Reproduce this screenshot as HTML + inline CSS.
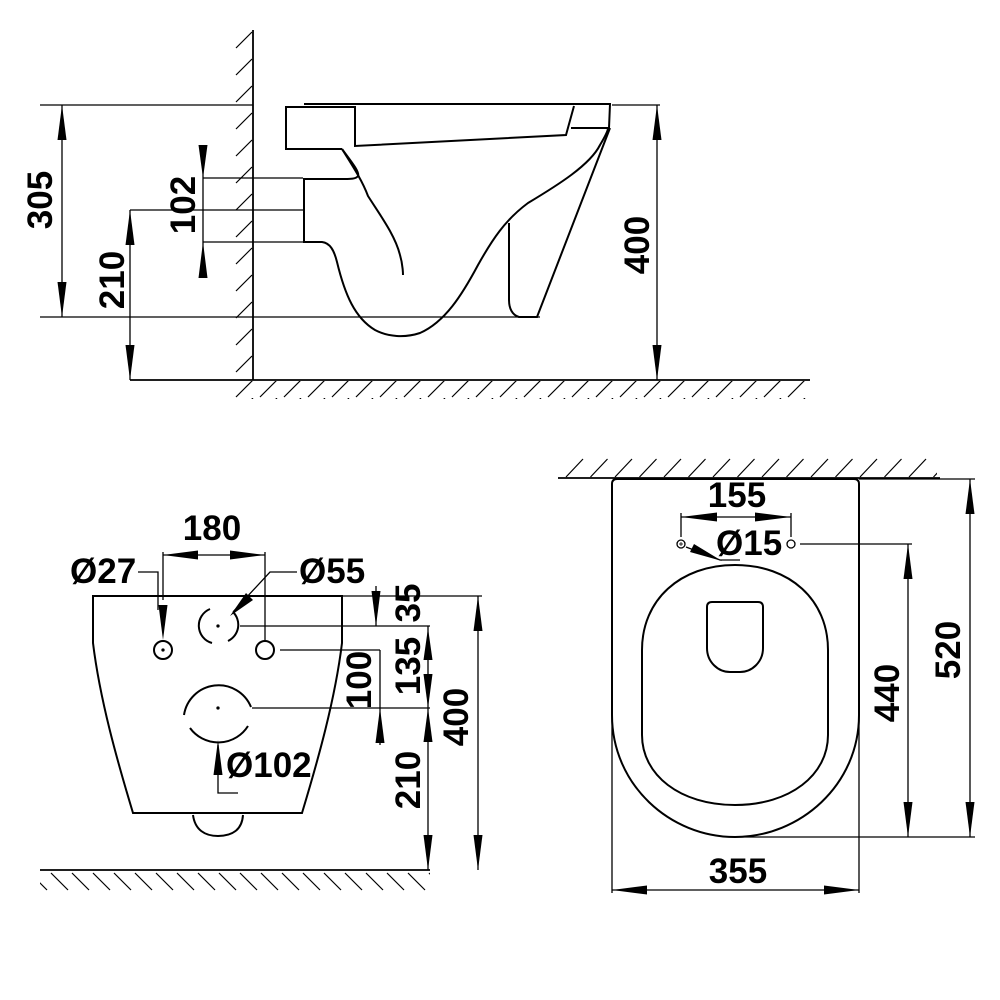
<!DOCTYPE html>
<html><head><meta charset="utf-8"><style>
html,body{margin:0;padding:0;background:#fff}
svg{display:block}
text{font-family:"Liberation Sans",Arial,sans-serif;font-weight:bold;font-size:35px;fill:#000}
</style></head><body>
<svg width="1000" height="1000" viewBox="0 0 1000 1000" xmlns="http://www.w3.org/2000/svg">
<defs>
<pattern id="hA" patternUnits="userSpaceOnUse" x="235" y="30" width="18" height="27"><line x1="1" y1="18" x2="17" y2="2" stroke="#000" stroke-width="1.2"/></pattern>
<pattern id="hB" patternUnits="userSpaceOnUse" x="235" y="380" width="24" height="18"><line x1="1" y1="17" x2="18" y2="0" stroke="#000" stroke-width="1.2"/></pattern>
<pattern id="hC" patternUnits="userSpaceOnUse" x="50" y="872" width="21" height="20"><line x1="1" y1="1" x2="18" y2="18" stroke="#000" stroke-width="1.2"/></pattern>
<pattern id="hD" patternUnits="userSpaceOnUse" x="565" y="458" width="24.5" height="20"><line x1="1" y1="19" x2="18" y2="1" stroke="#000" stroke-width="1.2"/></pattern>
</defs>
<g fill="none" stroke="#000" stroke-width="1.3">
<!-- SIDE VIEW -->
<line x1="253" y1="30" x2="253" y2="380" stroke-width="1.8"/>
<line x1="130" y1="380" x2="810" y2="380" stroke-width="1.8"/>
<rect x="235" y="30" width="18" height="350" fill="url(#hA)" stroke="none"/>
<rect x="235" y="381" width="575" height="18" fill="url(#hB)" stroke="none"/>
<line x1="40" y1="105" x2="253" y2="105"/>
<line x1="612" y1="105" x2="660" y2="105"/>
<line x1="40" y1="317" x2="540" y2="317"/>
<line x1="62" y1="105" x2="62" y2="317"/>
<line x1="657" y1="105" x2="657" y2="380"/>
<line x1="203" y1="145" x2="203" y2="278"/>
<line x1="203" y1="178" x2="303" y2="178"/>
<line x1="203" y1="242" x2="303" y2="242"/>
<line x1="130" y1="210" x2="303" y2="210"/>
<line x1="130" y1="210" x2="130" y2="380"/>
<g stroke-width="2">
<line x1="304" y1="104" x2="611" y2="104"/>
<path d="M355,107 L286,107 L286,149 L342,149"/>
<path d="M355,106 L355,146 L566,135 L574,106"/>
<path d="M571,128 L609,128 L610,104"/>
<path d="M342,149 C352,165 362,180 368,196 C380,215 395,235 400,255 C403,265 403,275 403,275"/>
<path d="M342,149 C350,160 360,172 358,176 C356,179 350,179 345,179 L304,179 L304,242 L322,242 C330,243 334,250 337,262 C345,295 355,318 375,330 C388,337 405,338 420,333 C445,322 462,295 478,265 C492,240 505,220 528,203 C558,185 590,165 600,145 C606,135 608,130 608,128"/>
<path d="M610,128 L537,317 L519,317 C512,315 509,308 509,300 L509,223"/>
</g>
<g fill="#000" stroke="none">
<polygon points="62,105 57.5,140 66.5,140"/><polygon points="62,317 57.5,282 66.5,282"/>
<polygon points="657,105 652.5,140 661.5,140"/><polygon points="657,380 652.5,345 661.5,345"/>
<polygon points="203,178 198.5,145 207.5,145"/><polygon points="203,242 198.5,278 207.5,278"/>
<polygon points="130,210 125.5,245 134.5,245"/><polygon points="130,380 125.5,345 134.5,345"/>
</g>

<!-- FRONT VIEW -->
<line x1="40" y1="870" x2="430" y2="870" stroke-width="1.8"/>
<rect x="40" y="872" width="390" height="20" fill="url(#hC)" stroke="none"/>
<g stroke-width="2">
<path d="M93,596 L342,596 L342,643 C335,700 318,760 302,813 L133,813 C117,760 100,700 93,643 Z"/>
<path d="M193,815 C195,830 205,836 218,836 C232,836 242,830 243,815"/>
<circle cx="163" cy="650" r="9"/>
<circle cx="265" cy="650" r="9"/>
<path d="M233,612 A18,18 0 0 1 228,641 M212,643 A18,18 0 0 1 210,609"/>
<path d="M251,707 A35,35 0 0 0 184,715 M190,728 A35,35 0 0 0 248,726"/>
</g>
<circle cx="163" cy="650" r="1" fill="#000"/><circle cx="218" cy="626" r="1" fill="#000"/><circle cx="218" cy="708" r="1" fill="#000"/>
<line x1="163" y1="555" x2="265" y2="555"/>
<line x1="163" y1="552" x2="163" y2="600"/>
<line x1="265" y1="552" x2="265" y2="640"/>
<path d="M138,572 L158,572 L158,610"/>
<path d="M297,572 L270,572 L233,612"/>
<path d="M218,745 L218,793 L238,793"/>
<line x1="342" y1="596" x2="482" y2="596"/>
<line x1="240" y1="626" x2="430" y2="626"/>
<line x1="280" y1="650" x2="380" y2="650"/>
<line x1="252" y1="708" x2="430" y2="708"/>
<line x1="380" y1="650" x2="380" y2="745"/>
<line x1="376" y1="586" x2="376" y2="626"/>
<line x1="428" y1="626" x2="428" y2="870"/>
<line x1="478" y1="596" x2="478" y2="870"/>
<g fill="#000" stroke="none">
<polygon points="163,555 198,550.5 198,559.5"/><polygon points="265,555 230,550.5 230,559.5"/>
<polygon points="163,640 158.5,605 167.5,605"/>
<polygon points="230,616 246,593 253,600"/>
<polygon points="218,740 213.5,775 222.5,775"/>
<polygon points="376,626 371.5,591 380.5,591"/>
<polygon points="380,708 375.5,743 384.5,743"/>
<polygon points="428,628 423.5,660 432.5,660"/><polygon points="428,708 423.5,674 432.5,674"/>
<polygon points="428,708 423.5,742 432.5,742"/><polygon points="428,870 423.5,835 432.5,835"/>
<polygon points="478,596 473.5,631 482.5,631"/><polygon points="478,870 473.5,835 482.5,835"/>
</g>

<!-- TOP VIEW -->
<line x1="558" y1="478" x2="940" y2="478" stroke-width="1.8"/>
<rect x="565" y="458" width="372" height="20" fill="url(#hD)" stroke="none"/>
<g stroke-width="2">
<path d="M617,479 L854,479 Q859,479 859,484 L859,715 C859,785 800,837 735,837 C670,837 612,785 612,715 L612,484 Q612,479 617,479 Z"/>
<path d="M735,565 C790,565 828,600 828,650 L828,735 C828,775 790,805 735,805 C680,805 642,775 642,735 L642,650 C642,600 680,565 735,565 Z"/>
<path d="M712,602 L758,602 Q763,602 763,607 L763,648 C763,662 752,672 740,672 L730,672 C718,672 707,662 707,648 L707,607 Q707,602 712,602 Z"/>
</g>
<circle cx="681" cy="544" r="4"/><circle cx="791" cy="544" r="4"/>
<line x1="679" y1="544" x2="683" y2="544" stroke-width="0.8"/><line x1="681" y1="542" x2="681" y2="546" stroke-width="0.8"/>
<line x1="681" y1="517" x2="791" y2="517"/>
<line x1="681" y1="513" x2="681" y2="537"/><line x1="791" y1="513" x2="791" y2="537"/>
<path d="M686,547 L720,560 L740,560"/>
<line x1="800" y1="544" x2="912" y2="544"/>
<line x1="735" y1="837" x2="975" y2="837"/>
<line x1="859" y1="479" x2="975" y2="479"/>
<line x1="908" y1="544" x2="908" y2="837"/>
<line x1="970" y1="479" x2="970" y2="837"/>
<line x1="612" y1="715" x2="612" y2="893"/><line x1="859" y1="715" x2="859" y2="893"/>
<line x1="612" y1="890" x2="859" y2="890"/>
<g fill="#000" stroke="none">
<polygon points="681,517 717,512.5 717,521.5"/><polygon points="791,517 755,512.5 755,521.5"/>
<polygon points="722,561 690,552 694,544"/>
<polygon points="908,544 903.5,579 912.5,579"/><polygon points="908,837 903.5,802 912.5,802"/>
<polygon points="970,479 965.5,514 974.5,514"/><polygon points="970,837 965.5,802 974.5,802"/>
<polygon points="612,890 647,885.5 647,894.5"/><polygon points="859,890 824,885.5 824,894.5"/>
</g>
</g>

<!-- TEXT -->
<text transform="translate(52,200) rotate(-90)" text-anchor="middle">305</text>
<text transform="translate(195,205) rotate(-90)" text-anchor="middle">102</text>
<text transform="translate(124,280) rotate(-90)" text-anchor="middle">210</text>
<text transform="translate(649,245) rotate(-90)" text-anchor="middle">400</text>

<text x="212" y="540" text-anchor="middle">180</text>
<text x="70" y="583">Ø27</text>
<text x="299" y="583">Ø55</text>
<text x="226" y="777">Ø102</text>
<text transform="translate(420,603) rotate(-90)" text-anchor="middle">35</text>
<text transform="translate(420,666) rotate(-90)" text-anchor="middle">135</text>
<text transform="translate(371,680) rotate(-90)" text-anchor="middle">100</text>
<text transform="translate(420,780) rotate(-90)" text-anchor="middle">210</text>
<text transform="translate(468,717) rotate(-90)" text-anchor="middle">400</text>

<text x="737" y="507" text-anchor="middle">155</text>
<text x="716" y="555">Ø15</text>
<text transform="translate(899,693) rotate(-90)" text-anchor="middle">440</text>
<text transform="translate(960,650) rotate(-90)" text-anchor="middle">520</text>
<text x="738" y="883" text-anchor="middle">355</text>
</svg>
</body></html>
